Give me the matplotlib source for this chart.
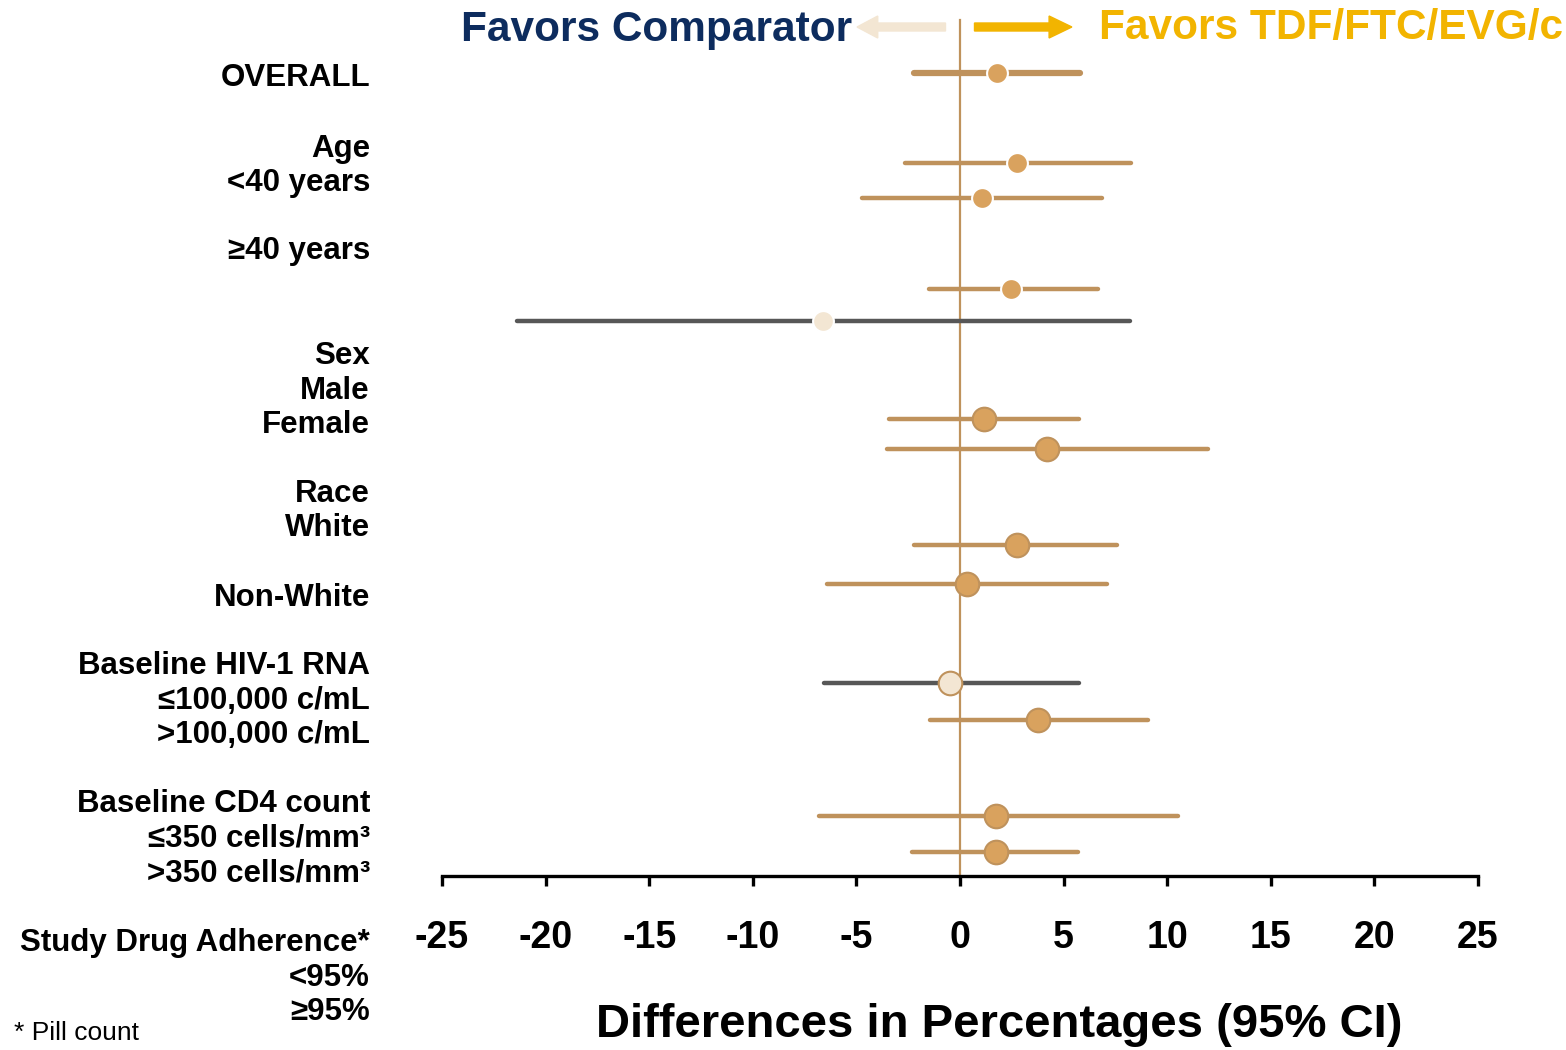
import matplotlib.pyplot as plt
import numpy as np
from matplotlib.patches import FancyArrow

plt.rcParams['font.family'] = ['Liberation Sans', 'DejaVu Sans']

# subgroup estimates (difference in %, with 95% CI)
est = [1.8, 2.75, 1.05, 2.45, -6.6, 1.15, 4.2, 2.75, 0.35, -0.5, 3.75, 1.75, 1.75]
lo = [-2.2, -2.65, -4.75, -1.5, -21.4, -3.45, -3.5, -2.2, -6.4, -6.55, -1.45, -6.8, -2.3]
hi = [5.8, 8.25, 6.85, 6.65, 8.2, 5.75, 11.95, 7.6, 7.1, 5.75, 9.05, 10.5, 5.7]
favors_comp = [False, False, False, False, True, False, False, False, False, True, False, False, False]
big_marker = [False] * 5 + [True] * 8

row_labels = ['OVERALL', 'Age', '<40 years', '\u226540 years', 'Sex', 'Male', 'Female',
              'Race', 'White', 'Non-White', 'Baseline HIV-1 RNA', '\u2264100,000 c/mL',
              '>100,000 c/mL', 'Baseline CD4 count', '\u2264350 cells/mm\u00b3',
              '>350 cells/mm\u00b3', 'Study Drug Adherence*', '<95%', '\u226595%']
ticks = [-25, -20, -15, -10, -5, 0, 5, 10, 15, 20, 25]

# layout (pixels from top of the figure)
W, H = 1566, 1050
mark_y = [73, 163, 198, 289, 321, 419, 449, 545, 584, 683, 720, 816, 852]
label_y = [76, 146, 181, 249, 353, 388, 422, 491, 526, 595, 664, 699, 733,
           802, 836, 871, 941, 976, 1010]
ax_left, ax_right, ax_bottom = 442, 1478, 876

tan = '#BF925C'
dot = '#D9A25E'
grey = '#575757'
cream = '#F3E6D3'
gold = '#F2B400'
navy = '#0D2C5E'

fig = plt.figure(figsize=(W / 100, H / 100), dpi=100)
ax = fig.add_axes([ax_left / W, (H - ax_bottom) / H, (ax_right - ax_left) / W, ax_bottom / H])
ax.set_xlim(-25, 25)
ax.set_ylim(ax_bottom, 0)

ax.plot([0, 0], [20, ax_bottom], color=tan, lw=1.6, zorder=1)

for i in range(len(est)):
    lc = grey if favors_comp[i] else tan
    lw = 4.5 if i == 0 else 3.2
    ax.plot([lo[i], hi[i]], [mark_y[i], mark_y[i]], color=lc, lw=lw,
            solid_capstyle='round', zorder=2)
    fc = cream if favors_comp[i] else dot
    if big_marker[i]:
        ax.plot(est[i], mark_y[i], 'o', ms=17, mfc=fc, mec=tan, mew=1.5, zorder=3)
    else:
        ax.plot(est[i], mark_y[i], 'o', ms=15, mfc=fc, mec='white', mew=1.5, zorder=3)

for s in ['top', 'right', 'left']:
    ax.spines[s].set_visible(False)
ax.spines['bottom'].set_linewidth(2.4)
ax.set_yticks([])
ax.set_xticks(ticks)
ax.set_xticklabels([str(t) for t in ticks], fontsize=27, fontweight='bold')
ax.tick_params(axis='x', direction='out', length=7, width=2.4, pad=25)
ax.set_xlabel('Differences in Percentages (95% CI)', fontsize=34, fontweight='bold')
ax.xaxis.set_label_coords(0.538, -0.145)

for lab, y in zip(row_labels, label_y):
    fig.text(370 / W, 1 - (y + 2.5) / H, lab, ha='right', va='center', fontsize=22.5,
             fontweight='bold')
fig.text(14 / W, 1 - 1033 / H, '* Pill count', ha='left', va='center', fontsize=19)

# header
fig.text(852 / W, 1 - 30 / H, 'Favors Comparator', ha='right', va='center',
         fontsize=30.5, fontweight='bold', color=navy)
fig.text(1099 / W, 1 - 28 / H, 'Favors TDF/FTC/EVG/c', ha='left', va='center',
         fontsize=30.5, fontweight='bold', color=gold)
ax.add_patch(FancyArrow(-0.7, 27, -4.27, 0, width=8, head_width=22, head_length=1.0,
                        length_includes_head=True, color=cream, clip_on=False))
ax.add_patch(FancyArrow(0.7, 27, 4.7, 0, width=8, head_width=22, head_length=1.1,
                        length_includes_head=True, color=gold, clip_on=False))

fig.savefig('out.png', dpi=100)
